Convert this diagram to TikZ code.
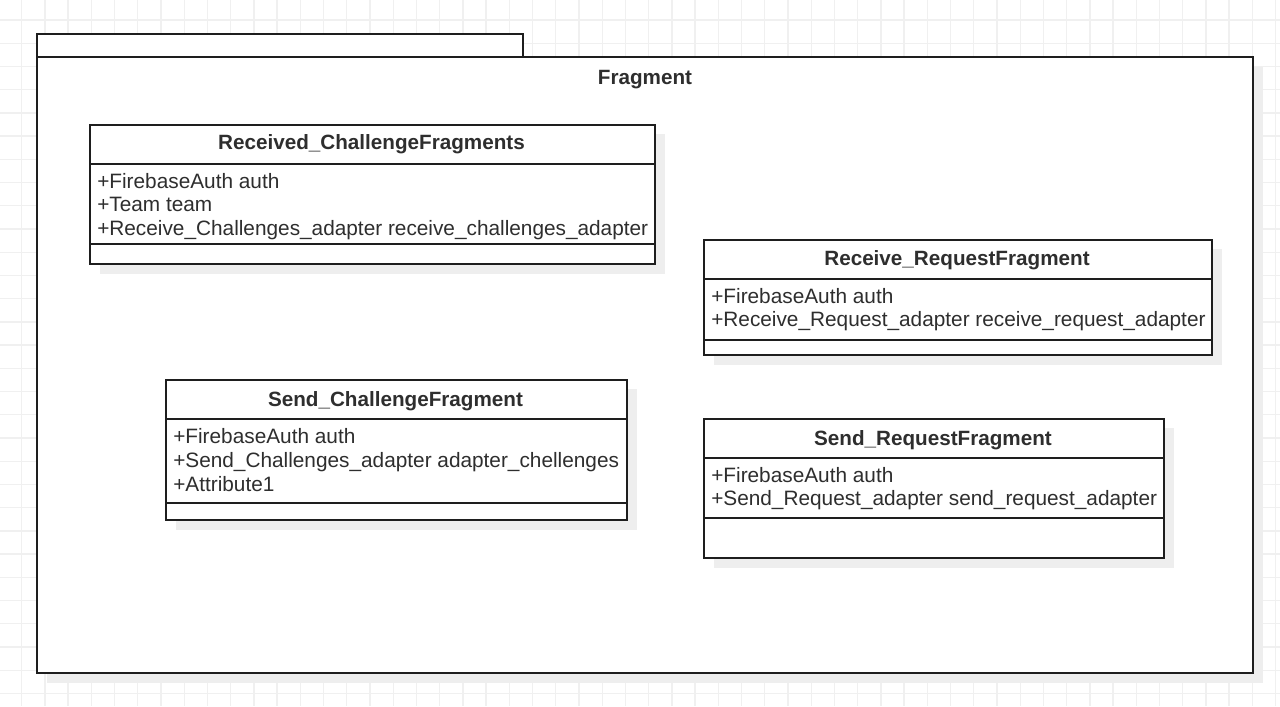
\documentclass[tikz,border=0pt]{standalone}
\usepackage{fontspec}
\setmainfont{Liberation Sans}
\definecolor{gridc}{HTML}{F0F0F0}
\definecolor{shad}{HTML}{EEEEEE}
\definecolor{edge}{HTML}{1E1E1E}
\definecolor{txt}{HTML}{2E2E2E}
\tikzset{
  px/.style={x=0.75pt,y=-0.75pt},
  shadowbox/.style={fill=shad,draw=none},
  boxline/.style={draw=edge,line width=1.4pt},
  titletxt/.style={inner sep=0pt,text=txt,font=\fontsize{15.5}{18}\selectfont\bfseries,anchor=base},
  attrtxt/.style={inner sep=0pt,text=txt,font=\fontsize{15.6}{18}\selectfont,anchor=base west},
}
\begin{document}
\begin{tikzpicture}[px]
\useasboundingbox (0,0) rectangle (1280,706);
\fill[white] (0,0) rectangle (1280,706);
% grid
\foreach \i in {0,...,54} {
  \draw[gridc,line width=1pt] ({21.7+23.22*\i},0) -- ({21.7+23.22*\i},706);
}
\foreach \j in {0,...,30} {
  \draw[gridc,line width=1pt] (0,{20+23.22*\j}) -- (1280,{20+23.22*\j});
}
% package
\fill[shad] (47,67) rectangle (1263,683);
\draw[boxline,fill=white] (37,34) rectangle (523,57);
\draw[boxline,fill=white] (37,57) rectangle (1253,673);
\node[titletxt] (pkgtitle) at (645,85) {Fragment};

% class 1
\fill[shadowbox] (100,134) rectangle (665,274);
\node[boxline,fill=white,anchor=north west,minimum width=423.75pt,minimum height=104.25pt,inner sep=0pt] (c1) at (89,124) {};
\draw[boxline] (89,164) -- (654,164);
\draw[boxline] (89,244) -- (654,244);
\node[titletxt] (c1t) at (371.5,150) {Received\_ChallengeFragments};
\node[attrtxt] (c1a) at (97,188) {+FirebaseAuth auth};
\node[attrtxt] (c1b) at (97,211) {+Team team};
\node[attrtxt] (c1c) at (97,235) {+Receive\_Challenges\_adapter receive\_challenges\_adapter};

% class 2
\fill[shadowbox] (714,249) rectangle (1222,365);
\node[boxline,fill=white,anchor=north west,minimum width=381pt,minimum height=86.25pt,inner sep=0pt] (c2) at (703,239) {};
\draw[boxline] (703,279) -- (1211,279);
\draw[boxline] (703,340) -- (1211,340);
\node[titletxt] (c2t) at (957,265) {Receive\_RequestFragment};
\node[attrtxt] (c2a) at (711,303) {+FirebaseAuth auth};
\node[attrtxt] (c2b) at (711,326) {+Receive\_Request\_adapter receive\_request\_adapter};

% class 3
\fill[shadowbox] (176,389) rectangle (637,530);
\node[boxline,fill=white,anchor=north west,minimum width=345.75pt,minimum height=105pt,inner sep=0pt] (c3) at (165,379) {};
\draw[boxline] (165,419) -- (626,419);
\draw[boxline] (165,503) -- (626,503);
\node[titletxt] (c3t) at (395.5,406) {Send\_ChallengeFragment};
\node[attrtxt] (c3a) at (173,443) {+FirebaseAuth auth};
\node[attrtxt] (c3b) at (173,467) {+Send\_Challenges\_adapter adapter\_chellenges};
\node[attrtxt] (c3c) at (173,491) {+Attribute1};

% class 4
\fill[shadowbox] (714,428) rectangle (1174,568);
\node[boxline,fill=white,anchor=north west,minimum width=345pt,minimum height=104.25pt,inner sep=0pt] (c4) at (703,418) {};
\draw[boxline] (703,458) -- (1163,458);
\draw[boxline] (703,518) -- (1163,518);
\node[titletxt] (c4t) at (933,445) {Send\_RequestFragment};
\node[attrtxt] (c4a) at (711,482) {+FirebaseAuth auth};
\node[attrtxt] (c4b) at (711,505) {+Send\_Request\_adapter send\_request\_adapter};
\end{tikzpicture}
\end{document}
